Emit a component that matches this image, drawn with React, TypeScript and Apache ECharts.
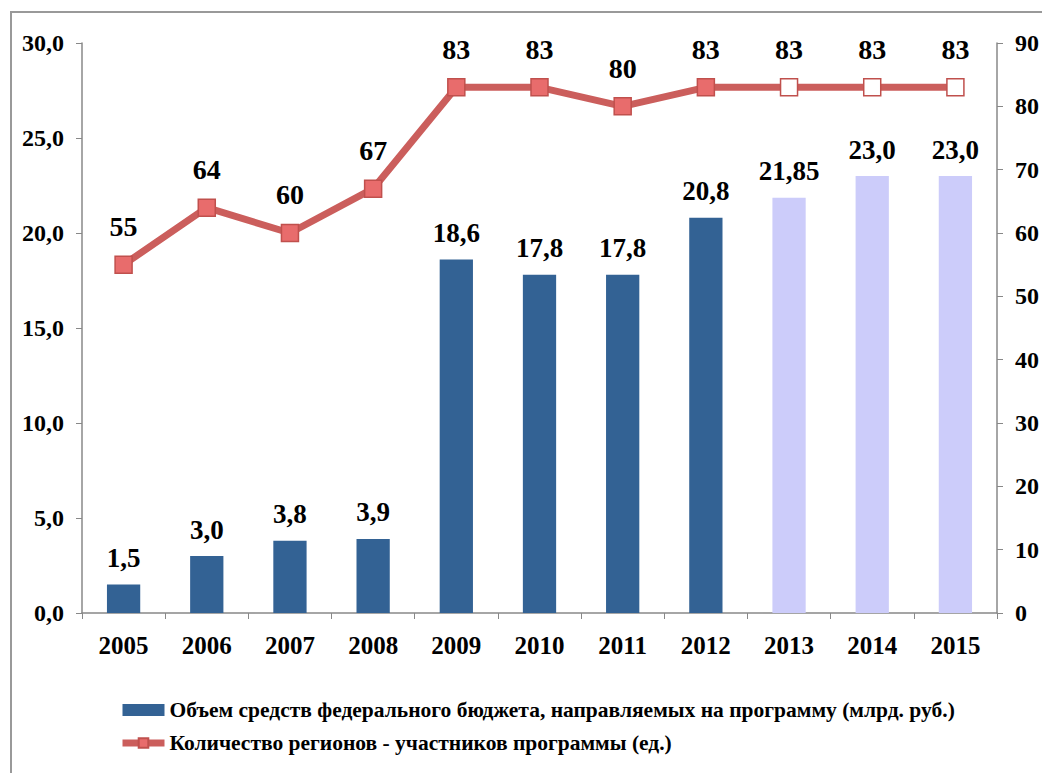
import React, { useEffect, useRef } from "react";
import * as echarts from "echarts";

const years = ["2005", "2006", "2007", "2008", "2009", "2010", "2011", "2012", "2013", "2014", "2015"];
const budget = [1.5, 3.0, 3.8, 3.9, 18.6, 17.8, 17.8, 20.8, 21.85, 23.0, 23.0];
const regions = [55, 64, 60, 67, 83, 83, 80, 83, 83, 83, 83];
const plannedFrom = 8; // index of first planned year (2013)

const budgetName = "Объем средств федерального бюджета, направляемых на программу (млрд. руб.)";
const regionsName = "Количество регионов - участников программы (ед.)";

const FONT = "'Liberation Serif', 'Times New Roman', serif";
const BLUE = "#336294";
const LIGHT = "#CCCCFA";
const RED = "#CB5E5C";

function fmtBar(v: number): string {
  const s = Math.round(v * 10) === v * 10 ? v.toFixed(1) : String(v);
  return s.replace(".", ",");
}

export default function App() {
  const ref = useRef<HTMLDivElement>(null);
  useEffect(() => {
    if (!ref.current) return;
    const chart = echarts.init(ref.current, undefined, { renderer: "svg" });
    const textBase = { fontFamily: FONT, fontWeight: "bold" as const, color: "#000" };
    chart.setOption({
      animation: false,
      backgroundColor: "#fff",
      graphic: [
        {
          type: "rect",
          shape: { x: 11, y: 12, width: 1200, height: 1000 },
          style: { fill: "none", stroke: "#999", lineWidth: 2 },
          silent: true,
        },
      ],
      grid: { left: 82, right: 43, top: 43, bottom: 160 },
      legend: {
        orient: "vertical",
        left: 119,
        top: 699,
        padding: 0,
        itemGap: 11,
        itemWidth: 42,
        itemHeight: 12,
        textStyle: { ...textBase, fontSize: 21.5 },
        data: [
          { name: budgetName, icon: "rect" },
          { name: regionsName, lineStyle: { width: 7, color: RED } },
        ],
      },
      xAxis: {
        type: "category",
        data: years,
        axisLine: { lineStyle: { color: "#888", width: 1.5 } },
        axisTick: { show: true, length: 6, lineStyle: { color: "#888" } },
        axisLabel: { ...textBase, fontSize: 25, margin: 20 },
      },
      yAxis: [
        {
          type: "value",
          min: 0,
          max: 30,
          interval: 5,
          splitLine: { show: false },
          axisLine: { show: true, lineStyle: { color: "#888", width: 1.5 } },
          axisTick: { show: true, length: 6, lineStyle: { color: "#888" } },
          axisLabel: {
            ...textBase,
            fontSize: 24,
            margin: 18,
            formatter: (v: number) => v.toFixed(1).replace(".", ","),
          },
        },
        {
          type: "value",
          min: 0,
          max: 90,
          interval: 10,
          splitLine: { show: false },
          axisLine: { show: true, lineStyle: { color: "#888", width: 1.5 } },
          axisTick: { show: true, length: 6, lineStyle: { color: "#888" } },
          axisLabel: { ...textBase, fontSize: 24, margin: 18 },
        },
      ],
      series: [
        {
          name: budgetName,
          type: "bar",
          yAxisIndex: 0,
          barWidth: "40%",
          itemStyle: { color: BLUE },
          data: budget.map((v, i) => ({
            value: v,
            itemStyle: { color: i >= plannedFrom ? LIGHT : BLUE },
          })),
          label: {
            show: true,
            position: "top",
            distance: 13,
            ...textBase,
            fontSize: 27,
            formatter: (p: any) => fmtBar(p.value),
          },
        },
        {
          name: regionsName,
          type: "line",
          yAxisIndex: 1,
          symbol: "rect",
          symbolSize: 17,
          lineStyle: { color: RED, width: 7 },
          itemStyle: { color: "#E86C6C", borderColor: "#C0504D", borderWidth: 1.5 },
          data: regions.map((v, i) => ({
            value: v,
            itemStyle: {
              color: i >= plannedFrom ? "#fff" : "#E86C6C",
              borderColor: "#C0504D",
              borderWidth: 1.5,
            },
          })),
          label: {
            show: true,
            position: "top",
            distance: 15,
            ...textBase,
            fontSize: 28,
          },
          z: 3,
        },
      ],
    });
    return () => chart.dispose();
  }, []);
  return <div ref={ref} style={{ width: 1042, height: 773, position: "absolute", left: 0, top: 0 }} />;
}
